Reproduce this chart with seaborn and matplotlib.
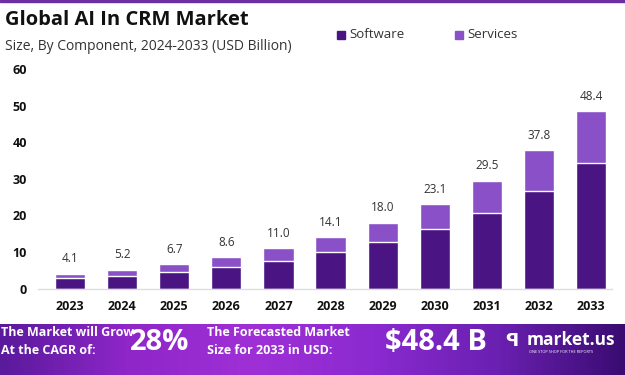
import numpy as np
import pandas as pd
import matplotlib
matplotlib.use("Agg")
import matplotlib.pyplot as plt
import seaborn as sns
from matplotlib.colors import LinearSegmentedColormap
from matplotlib.patches import Rectangle

years = ["2023", "2024", "2025", "2026", "2027", "2028", "2029", "2030", "2031", "2032", "2033"]
totals = [4.1, 5.2, 6.7, 8.6, 11.0, 14.1, 18.0, 23.1, 29.5, 37.8, 48.4]
software = [2.8, 3.5, 4.5, 6.0, 7.6, 9.9, 12.6, 16.3, 20.7, 26.7, 34.2]
services = [round(t - s, 1) for t, s in zip(totals, software)]
yticks = [0, 10, 20, 30, 40, 50, 60]

SOFT_C = "#4a1582"
SERV_C = "#8a50c8"

sns.set_theme(style="white")
plt.rcParams["font.family"] = ["Open Sans", "DejaVu Sans"]

df = pd.DataFrame({"year": years, "total": totals, "software": software, "services": services})

fig = plt.figure(figsize=(6.25, 3.75), dpi=100)
fig.patch.set_facecolor("white")

ax = fig.add_axes([38/625, 1 - 288.6/375, (612 - 38)/625, (288.6 - 69)/375])
sns.barplot(data=df, x="year", y="total", color=SERV_C, width=0.58, saturation=1, ax=ax)
sns.barplot(data=df, x="year", y="software", color=SOFT_C, width=0.58, saturation=1, ax=ax)

ax.set_xlim(-0.614, 10.4)
ax.set_ylim(0, 60)
ax.set_yticks(yticks)
ax.set_yticklabels([str(v) for v in yticks], fontsize=9, fontweight="bold", color="#111111")
ax.set_xticks(range(len(years)))
ax.set_xticklabels(years, fontsize=9, fontweight="bold", color="#111111")
ax.tick_params(axis="y", length=0, pad=8)
ax.tick_params(axis="x", length=0, pad=8)
ax.set_xlabel("")
ax.set_ylabel("")
for sp in ["top", "right", "left"]:
    ax.spines[sp].set_visible(False)
ax.spines["bottom"].set_color("#dddddd")
ax.spines["bottom"].set_linewidth(1.0)
ax.grid(False)

for i, t in enumerate(totals):
    ax.annotate(f"{t:.1f}", (i, t), xytext=(0, 6), textcoords="offset points",
                ha="center", va="bottom", fontsize=8.5, color="#333333")

# Title and subtitle
fig.text(5/625, 1 - 20/375, "Global AI In CRM Market", fontsize=14.5, fontweight="bold",
         color="#111111", va="center", ha="left")
fig.text(5/625, 1 - 46/375, "Size, By Component, 2024-2033 (USD Billion)", fontsize=10,
         color="#333333", va="center", ha="left")

# top thin border
fig.patches.append(Rectangle((0, 1 - 2/375), 1, 2/375, transform=fig.transFigure,
                             color="#6a2fa0", zorder=5))

# Legend
for xs, lab, c in [(337, "Software", SOFT_C), (455, "Services", SERV_C)]:
    fig.patches.append(Rectangle((xs/625, 1 - 39/375), 8/625, 8/375, transform=fig.transFigure,
                                 color=c, zorder=5))
    fig.text((xs + 12)/625, 1 - 35/375, lab, fontsize=9.5, color="#333333", va="center", ha="left")

# Bottom banner
bax = fig.add_axes([0, 0, 1, 51/375])
cmap = LinearSegmentedColormap.from_list("band", ["#5a1a9c", "#8e26c8", "#9f30d6", "#8a2ad0", "#6a20b0", "#3a0c72"])
grad = np.linspace(0, 1, 300).reshape(1, -1)
bax.imshow(grad, aspect="auto", cmap=cmap, extent=[0, 1, 0, 1])
bax.set_axis_off()

fig.text(1/625, 1 - 333/375, "The Market will Grow", fontsize=9, fontweight="bold", color="white", va="center", ha="left")
fig.text(1/625, 1 - 350/375, "At the CAGR of:", fontsize=9, fontweight="bold", color="white", va="center", ha="left")
fig.text(160/625, 1 - 343/375, "28%", fontsize=21, fontweight="bold", color="white", va="center", ha="center")
fig.text(207/625, 1 - 333/375, "The Forecasted Market", fontsize=9, fontweight="bold", color="white", va="center", ha="left")
fig.text(207/625, 1 - 350/375, "Size for 2033 in USD:", fontsize=9, fontweight="bold", color="white", va="center", ha="left")
fig.text(385/625, 1 - 343/375, "$48.4 B", fontsize=21, fontweight="bold", color="white", va="center", ha="left")
fig.text(505/625, 1 - 341/375, "ꟼ", fontsize=13, fontweight="bold", color="white", va="center", ha="left")
fig.text(527/625, 1 - 340/375, "market.us", fontsize=12.5, fontweight="bold", color="white", va="center", ha="left")
fig.text(529/625, 1 - 352/375, "ONE STOP SHOP FOR THE REPORTS", fontsize=2.8, color="white", va="center", ha="left")

fig.savefig("out.png", dpi=100, facecolor="white")
